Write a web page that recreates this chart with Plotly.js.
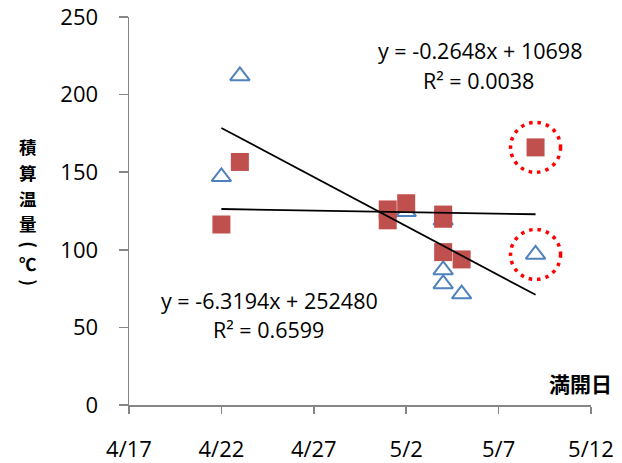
<!DOCTYPE html>
<html>
<head>
<meta charset="utf-8">
<script src="https://cdn.plot.ly/plotly-3.0.1.min.js"></script>
<style>html,body{margin:0;padding:0;background:#fff;}#chart{width:622px;height:463px;}</style>
</head>
<body>
<div id="chart"></div>
<script>
// ---- data ----
const squareDates = ['2009-04-22','2009-04-23','2009-05-01','2009-05-01','2009-05-02','2009-05-04','2009-05-04','2009-05-04','2009-05-05','2009-05-09'];
const squareValues = [116.3, 156.6, 126, 119, 130, 122.7, 120, 98.5, 93.8, 166];
const triangleDates = ['2009-04-22','2009-04-23','2009-05-02','2009-05-04','2009-05-04','2009-05-04','2009-05-05','2009-05-09'];
const triangleValues = [147, 212, 124.5, 119, 87, 78, 71.5, 97];
const trendDates = ['2009-04-22','2009-05-09'];
const trendSquareValues = [126.3, 122.9];
const trendTriangleValues = [178.5, 71];
const highlightSquare = 9;     // index in squares
const highlightTriangle = 7;   // index in triangles
const eqSquare = ['y = -0.2648x + 10698', 'R² = 0.0038'];
const eqTriangle = ['y = -6.3194x + 252480', 'R² = 0.6599'];
const yTitleMain = ['積','算','温','量'];
const yTitleUnit = ['(', '℃', ')'];
const xTitle = '満開日';
const xRange = ['2009-04-17','2009-05-12'];
const yRange = [0, 250];

// ---- layout helpers ----
const W = 622, H = 463;
const M = {l:129, r:31, t:17, b:57.5};
const pw = W - M.l - M.r, ph = H - M.t - M.b;
const px = x => (x - M.l) / pw;
const py = y => (H - M.b - y) / ph;
const FONT = 'Open Sans, Noto Sans, sans-serif';
const CJK = 'Noto Sans CJK JP, sans-serif';

const traces = [
  {x: triangleDates, y: triangleValues, type:'scatter', mode:'markers',
   marker:{symbol:'triangle-up-open', size:17, color:'#4F81BD', line:{width:2, color:'#4F81BD'}},
   hoverinfo:'skip'},
  {x: squareDates, y: squareValues, type:'scatter', mode:'markers',
   marker:{symbol:'square', size:18, color:'#C0504D', line:{width:0}},
   hoverinfo:'skip'},
  {x: trendDates, y: trendSquareValues, type:'scatter', mode:'lines',
   line:{color:'#000', width:1.8}, hoverinfo:'skip'},
  {x: trendDates, y: trendTriangleValues, type:'scatter', mode:'lines',
   line:{color:'#000', width:1.8}, hoverinfo:'skip'}
];

const circle = (xv, yv) => ({
  type:'circle', xref:'x', yref:'y', xsizemode:'pixel', ysizemode:'pixel',
  xanchor: xv, yanchor: yv, x0:-25, x1:25, y0:-25, y1:25,
  line:{color:'#FF0000', width:3.5, dash:'3.5px,5px'}, fillcolor:'rgba(0,0,0,0)'
});

const annotations = [];
// equations
const eqAnn = (t, cx, cy) => ({text:t, xref:'paper', yref:'paper', x:px(cx), y:py(cy),
  xanchor:'center', yanchor:'middle', showarrow:false, font:{family:FONT, size:21.5, color:'#000'}});
annotations.push(eqAnn(eqSquare[0], 480, 51));
annotations.push(eqAnn(eqSquare[1], 478, 81));
annotations.push(eqAnn(eqTriangle[0], 269, 301));
annotations.push(eqAnn(eqTriangle[1], 268, 330));
// y title (stacked vertical, one character per annotation)
const mainPos = [147, 172.7, 198.4, 224.1];
yTitleMain.forEach((c, i) => annotations.push({text:'<b>'+c+'</b>', xref:'paper', yref:'paper',
  x:px(28), y:py(mainPos[i]), xanchor:'center', yanchor:'middle', showarrow:false,
  font:{family:CJK, size:17.5, color:'#000'}}));
annotations.push({text:'<b>'+yTitleUnit[0]+'</b>', xref:'paper', yref:'paper', x:px(30.5), y:py(245),
  xanchor:'center', yanchor:'middle', showarrow:false, textangle:90,
  font:{family:CJK, size:18, color:'#000'}});
annotations.push({text:'<b>'+yTitleUnit[1]+'</b>', xref:'paper', yref:'paper', x:px(28), y:py(264),
  xanchor:'center', yanchor:'middle', showarrow:false,
  font:{family:CJK, size:17.5, color:'#000'}});
annotations.push({text:'<b>'+yTitleUnit[2]+'</b>', xref:'paper', yref:'paper', x:px(30.5), y:py(283),
  xanchor:'center', yanchor:'middle', showarrow:false, textangle:90,
  font:{family:CJK, size:18, color:'#000'}});
// x title
annotations.push({text:'<b>'+xTitle+'</b>', xref:'paper', yref:'paper', x:px(614), y:py(383),
  xanchor:'right', yanchor:'middle', showarrow:false, font:{family:CJK, size:21, color:'#000'}});

const layout = {
  width: W, height: H, margin: {l:M.l, r:M.r, t:M.t, b:M.b, pad:0},
  paper_bgcolor:'#fff', plot_bgcolor:'#fff', showlegend:false,
  xaxis: {type:'date', range:xRange, tick0:xRange[0], dtick:5*86400000, tickformat:'%-m/%-d',
    ticks:'outside', ticklen:7, tickwidth:1.5, tickcolor:'#868686', showline:true, linecolor:'#868686', linewidth:1.5,
    showgrid:false, zeroline:false, tickfont:{family:FONT, size:22, color:'#000'}, ticklabelstandoff:17},
  yaxis: {range:yRange, dtick:50, tick0:0, ticks:'outside', ticklen:9, tickwidth:1.5, tickcolor:'#868686',
    showline:true, linecolor:'#868686', linewidth:1.5, showgrid:false, zeroline:false,
    tickfont:{family:FONT, size:22, color:'#000'}, ticklabelstandoff:16},
  shapes: [circle(squareDates[highlightSquare], squareValues[highlightSquare]),
           circle(triangleDates[highlightTriangle], triangleValues[highlightTriangle])],
  annotations: annotations
};

Plotly.newPlot('chart', traces, layout, {displayModeBar:false, staticPlot:true});
</script>
</body>
</html>
